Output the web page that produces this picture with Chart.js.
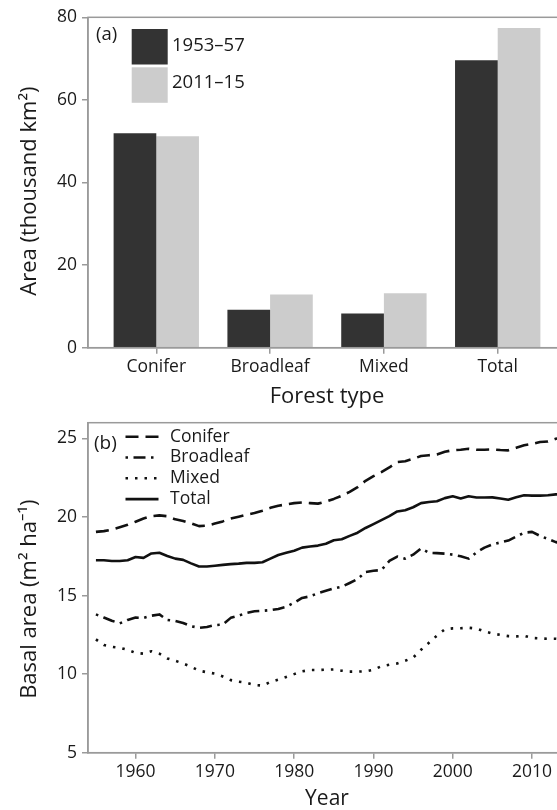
<!DOCTYPE html>
<html><head><meta charset="utf-8">
<script src="https://cdn.jsdelivr.net/npm/chart.js@4"></script>
<style>
html,body{margin:0;padding:0;background:#fff;overflow:hidden;width:557px;height:810px;position:relative;}
#a{position:absolute;left:0;top:0;}
#b{position:absolute;left:0;top:405px;}
</style></head><body>
<canvas id="a" width="566" height="408"></canvas>
<canvas id="b" width="566" height="405"></canvas>
<script>
// ---- Panel (a) data ----
const forestTypes = ['Conifer', 'Broadleaf', 'Mixed', 'Total'];
const periodLabels = ['1953–57', '2011–15'];
const area1953 = [51.9, 9.2, 8.3, 69.6];
const area2011 = [51.2, 12.9, 13.2, 77.4];
const areaTicks = [0, 20, 40, 60, 80];

// ---- Panel (b) data ----
const years = [1955,1956,1957,1958,1959,1960,1961,1962,1963,1964,
               1965,1966,1967,1968,1969,1970,1971,1972,1973,1974,
               1975,1976,1977,1978,1979,1980,1981,1982,1983,1984,
               1985,1986,1987,1988,1989,1990,1991,1992,1993,1994,
               1995,1996,1997,1998,1999,2000,2001,2002,2003,2004,
               2005,2006,2007,2008,2009,2010,2011,2012,2013,2014];
const conifer = [19.05,19.1,19.2,19.35,19.5,19.7,19.9,20.05,20.1,20.05,
                 19.85,19.75,19.6,19.42,19.45,19.58,19.72,19.9,20.02,20.15,
                 20.25,20.4,20.58,20.72,20.8,20.88,20.92,20.88,20.85,20.98,
                 21.15,21.35,21.6,21.9,22.3,22.6,22.85,23.15,23.5,23.55,
                 23.7,23.88,23.93,23.98,24.15,24.25,24.28,24.34,24.28,24.28,
                 24.3,24.26,24.24,24.4,24.56,24.65,24.77,24.8,24.98,25.05];
const broadleaf = [13.8,13.6,13.4,13.23,13.45,13.6,13.58,13.72,13.8,13.45,
                   13.38,13.25,13.05,12.95,13.0,13.12,13.15,13.58,13.72,13.9,
                   14.0,14.03,14.07,14.15,14.28,14.55,14.85,14.95,15.15,15.3,
                   15.45,15.56,15.8,16.05,16.5,16.58,16.62,17.2,17.48,17.35,
                   17.6,18.0,17.72,17.7,17.67,17.6,17.5,17.35,17.75,18.05,
                   18.25,18.38,18.5,18.75,19.0,19.05,18.8,18.6,18.4,18.3];
const mixed = [12.21,11.85,11.74,11.68,11.55,11.35,11.3,11.45,11.3,11.0,
               10.85,10.68,10.47,10.22,10.12,10.03,9.85,9.62,9.52,9.45,
               9.31,9.27,9.5,9.65,9.82,10.0,10.18,10.26,10.26,10.28,
               10.3,10.22,10.16,10.16,10.18,10.28,10.5,10.6,10.68,10.85,
               11.05,11.55,12.0,12.45,12.85,12.91,12.92,12.95,12.9,12.72,
               12.58,12.5,12.42,12.4,12.44,12.3,12.27,12.25,12.25,12.2];
const total = [17.25,17.25,17.2,17.2,17.25,17.45,17.4,17.68,17.72,17.52,
               17.35,17.27,17.05,16.85,16.85,16.9,16.95,17.0,17.03,17.08,
               17.08,17.12,17.35,17.58,17.72,17.85,18.05,18.12,18.18,18.3,
               18.52,18.58,18.8,19.0,19.3,19.55,19.8,20.05,20.35,20.43,
               20.62,20.88,20.95,21.0,21.2,21.32,21.18,21.32,21.24,21.24,
               21.25,21.18,21.1,21.25,21.38,21.36,21.36,21.38,21.44,21.45];
const seriesNames = ['Conifer', 'Broadleaf', 'Mixed', 'Total'];
const yearTicks = [1960, 1970, 1980, 1990, 2000, 2010];
const basalTicks = [5, 10, 15, 20, 25];

const FONT = "'Open Sans', 'Noto Sans', sans-serif";
const AXIS = '#9a9a9a';
const TXT = '#1a1a1a';

const framePlugin = {
  id: 'frame',
  afterDraw(chart) {
    const {ctx, chartArea: {left, top, right, bottom}} = chart;
    ctx.save();
    ctx.strokeStyle = AXIS;
    ctx.lineWidth = 1.5;
    ctx.strokeRect(left, top, right - left, bottom - top);
    ctx.restore();
  }
};

const legendA = {
  id: 'legendA',
  afterDraw(chart) {
    const ctx = chart.ctx;
    ctx.save();
    ctx.textBaseline = 'middle';
    ctx.textAlign = 'left';
    ctx.fillStyle = TXT;
    ctx.font = '18.5px ' + FONT;
    ctx.fillText('(a)', 96, 35);
    chart.data.datasets.forEach((ds, i) => {
      const y0 = 29 + i * 38.3;
      ctx.fillStyle = ds.backgroundColor;
      ctx.fillRect(131.7, y0, 36, 35.5);
      ctx.fillStyle = TXT;
      ctx.fillText(ds.label, 172, y0 + 17 - i * 2);
    });
    ctx.restore();
  }
};

const legendB = {
  id: 'legendB',
  afterDraw(chart) {
    const ctx = chart.ctx;
    const off = 405;
    ctx.save();
    ctx.textBaseline = 'middle';
    ctx.textAlign = 'left';
    ctx.fillStyle = TXT;
    ctx.font = '19px ' + FONT;
    ctx.fillText('(b)', 94, 444 - off);
    ctx.font = '17.5px ' + FONT;
    chart.data.datasets.forEach((ds, i) => {
      const y = 436.7 + i * 20.8 - off;
      ctx.strokeStyle = ds.borderColor;
      ctx.lineWidth = ds.borderWidth;
      ctx.setLineDash(ds.borderDash || []);
      ctx.beginPath();
      ctx.moveTo(125.5, y);
      ctx.lineTo(158.5, y);
      ctx.stroke();
      ctx.setLineDash([]);
      ctx.fillStyle = TXT;
      ctx.fillText(ds.label, 170, y);
    });
    ctx.restore();
  }
};

function yFit(s) { s.width = 88; }

// ---- Chart (a) ----
new Chart(document.getElementById('a'), {
  type: 'bar',
  data: {
    datasets: [
      { label: periodLabels[0], data: area1953.map((v, i) => ({x: i, y: v})),
        backgroundColor: '#333333', borderWidth: 0 },
      { label: periodLabels[1], data: area2011.map((v, i) => ({x: i, y: v})),
        backgroundColor: '#cccccc', borderWidth: 0 }
    ]
  },
  options: {
    responsive: false,
    animation: false,
    devicePixelRatio: 1,
    categoryPercentage: 0.75,
    barPercentage: 1.0,
    layout: { padding: { top: 17.3, left: 0, right: 0, bottom: 0 } },
    plugins: { legend: { display: false }, tooltip: { enabled: false } },
    scales: {
      x: {
        type: 'linear', min: -0.6, max: 3.6, offset: false,
        afterBuildTicks: s => { s.ticks = forestTypes.map((_, i) => ({value: i})); },
        afterFit: s => { s.height = 408 - 17.3 - 330.4; },
        grid: { display: true, drawOnChartArea: false, drawTicks: true, tickLength: 6, color: AXIS, lineWidth: 1.5, offset: false },
        border: { display: true, color: AXIS, width: 1.5 },
        ticks: { font: { family: FONT, size: 17.5 }, color: TXT, padding: 2.5, maxRotation: 0, autoSkip: false,
                 callback: v => forestTypes[v] },
        title: { display: true, text: 'Forest type', font: { family: FONT, size: 22, lineHeight: 1 }, color: TXT, padding: 0 }
      },
      y: {
        min: 0, max: 80,
        afterBuildTicks: s => { s.ticks = areaTicks.map(v => ({value: v})); },
        afterFit: yFit,
        grid: { display: true, drawOnChartArea: false, drawTicks: true, tickLength: 6, color: AXIS, lineWidth: 1.5 },
        border: { display: true, color: AXIS, width: 1.5 },
        ticks: { font: { family: FONT, size: 17.5 }, color: TXT, padding: 5 },
        title: { display: true, text: 'Area (thousand km²)   ', font: { family: FONT, size: 22, lineHeight: 1.2 }, color: TXT, padding: { top: 17, bottom: 0 } }
      }
    }
  },
  plugins: [framePlugin, legendA]
});

// ---- Chart (b) ----
const styleB = [
  { dash: [13, 7] },
  { dash: [2.5, 5.5, 12, 5.5] },
  { dash: [2.5, 7] },
  { dash: [] }
];
const seriesB = [conifer, broadleaf, mixed, total];

new Chart(document.getElementById('b'), {
  type: 'line',
  data: {
    datasets: seriesB.map((vals, k) => ({
      label: seriesNames[k],
      data: years.map((yr, i) => ({x: yr, y: vals[i]})),
      borderColor: '#111111',
      borderWidth: 2.6,
      borderDash: styleB[k].dash,
      borderJoinStyle: 'round',
      pointRadius: 0,
      tension: 0,
      fill: false
    }))
  },
  options: {
    responsive: false,
    animation: false,
    devicePixelRatio: 1,
    layout: { padding: { top: 17.7, left: 0, right: 0, bottom: 0 } },
    plugins: { legend: { display: false }, tooltip: { enabled: false } },
    scales: {
      x: {
        type: 'linear', min: 1954, max: 2014.28,
        afterBuildTicks: s => { s.ticks = yearTicks.map(v => ({value: v})); },
        afterFit: s => { s.height = 405 - 17.7 - 330; },
        grid: { display: true, drawOnChartArea: false, drawTicks: true, tickLength: 6, color: AXIS, lineWidth: 1.5 },
        border: { display: true, color: AXIS, width: 1.5 },
        ticks: { font: { family: FONT, size: 17.5 }, color: TXT, padding: 2.5, maxRotation: 0, autoSkip: false,
                 callback: v => String(v) },
        title: { display: true, text: 'Year', font: { family: FONT, size: 21, lineHeight: 1 }, color: TXT, padding: 0 }
      },
      y: {
        min: 5, max: 26,
        afterBuildTicks: s => { s.ticks = basalTicks.map(v => ({value: v})); },
        afterFit: yFit,
        grid: { display: true, drawOnChartArea: false, drawTicks: true, tickLength: 6, color: AXIS, lineWidth: 1.5 },
        border: { display: true, color: AXIS, width: 1.5 },
        ticks: { font: { family: FONT, size: 17.5 }, color: TXT, padding: 5 },
        title: { display: true, text: 'Basal area (m² ha⁻¹)    ', font: { family: FONT, size: 22, lineHeight: 1.2 }, color: TXT, padding: { top: 17, bottom: 0 } }
      }
    }
  },
  plugins: [framePlugin, legendB]
});
</script>
</body></html>
